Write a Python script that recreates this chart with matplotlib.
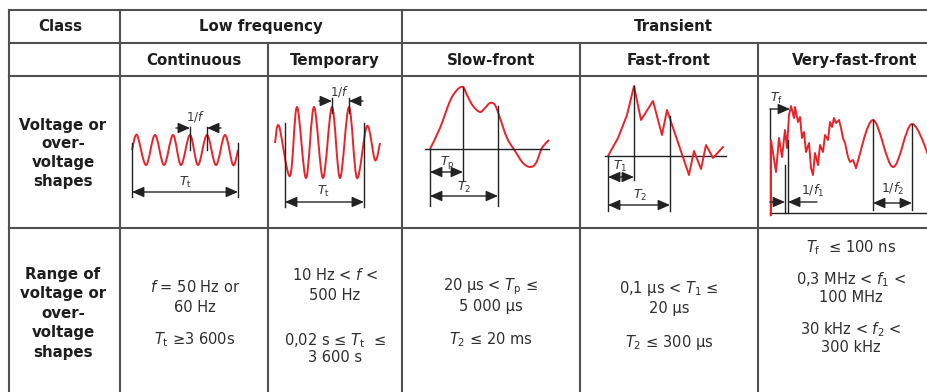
import matplotlib.pyplot as plt
from matplotlib.path import Path
from matplotlib.patches import PathPatch

plt.rcParams['font.family'] = ['DejaVu Sans']
plt.rcParams['mathtext.fontset'] = 'dejavusans'

# table text
groups = ['Low frequency', 'Transient']
shapes = ['Continuous', 'Temporary', 'Slow-front', 'Fast-front', 'Very-fast-front']
row_shape = ['Voltage or', 'over-', 'voltage', 'shapes']
row_range = ['Range of', 'voltage or', 'over-', 'voltage', 'shapes']
ranges = [
    ['$f$ = 50 Hz or', '60 Hz', '$T_\\mathrm{t}$ ≥3 600s'],
    ['10 Hz < $f$ <', '500 Hz', '0,02 s ≤ $T_\\mathrm{t}$  ≤', '3 600 s'],
    ['20 µs < $T_\\mathrm{p}$ ≤', '5 000 µs', '$T_2$ ≤ 20 ms'],
    ['0,1 µs < $T_1$ ≤', '20 µs', '$T_2$ ≤ 300 µs'],
    ['$T_\\mathrm{f}$  ≤ 100 ns', '0,3 MHz < $f_1$ <', '100 MHz',
     '30 kHz < $f_2$ <', '300 kHz'],
]

# waveform key points (pixel coords)
cont_x = [132, 137, 146, 155, 164, 173, 181, 190, 198, 207, 216, 225, 233, 238]
cont_y = [150, 135, 165, 135, 165, 135, 165, 135, 165, 135, 165, 135, 165, 150]
temp_x = [275, 279, 290, 297, 306, 314, 323, 332, 340, 349, 357, 367, 375, 380]
temp_y = [143, 126, 176, 107, 178, 107, 178, 107, 178, 107, 178, 126, 160, 143]
slow_x = [430, 440, 450, 457, 463, 467, 473, 480, 485, 490, 495, 500, 507,
          515, 523, 530, 536, 542, 549]
slow_y = [149, 128, 101, 90, 87, 95, 106, 112, 108, 103, 105, 118, 138,
          151, 163, 167, 163, 148, 140]
fast_x = [608, 618, 627, 634, 641, 653, 662, 667, 689, 694, 701, 706, 713, 723]
fast_y = [156, 138, 115, 86, 120, 101, 135, 110, 175, 151, 169, 145, 158, 147]
vff_x = [771, 771, 776, 779, 782, 785, 787, 789, 791, 794, 795, 798, 800, 802,
         804, 806, 809, 811, 813, 815, 818, 820, 823, 825, 828, 830, 832, 834,
         836, 839, 841, 843, 845, 848, 850, 853, 856]
vff_y = [215, 140, 172, 138, 157, 130, 148, 115, 106, 118, 107, 122, 117, 138,
         132, 152, 143, 168, 175, 153, 165, 145, 152, 135, 140, 122, 127, 118,
         123, 120, 128, 138, 143, 157, 162, 160, 168]
tail_x = [856, 873, 893, 912, 932]
tail_y = [168, 120, 167, 124, 165]

RED = '#e8232a'
INK = '#222222'
GRID = '#505050'
TXT = '#2e2e2e'


def smooth(ax, xs, ys):
    # Catmull-Rom through the key points, drawn as cubic bezier path
    pts = list(zip(xs, ys))
    verts = [pts[0]]
    codes = [Path.MOVETO]
    n = len(pts)
    for i in range(n - 1):
        p0 = pts[max(i - 1, 0)]
        p1 = pts[i]
        p2 = pts[i + 1]
        p3 = pts[min(i + 2, n - 1)]
        c1 = (p1[0] + (p2[0] - p0[0]) / 6, p1[1] + (p2[1] - p0[1]) / 6)
        c2 = (p2[0] - (p3[0] - p1[0]) / 6, p2[1] - (p3[1] - p1[1]) / 6)
        verts += [c1, c2, p2]
        codes += [Path.CURVE4] * 3
    ax.add_patch(PathPatch(Path(verts, codes), fill=False, color=RED, lw=1.4))


def arrow(ax, x0, x1, y, style='<|-|>'):
    ax.annotate('', xy=(x1, y), xytext=(x0, y),
                arrowprops=dict(arrowstyle=style + ',head_length=0.8,head_width=0.35',
                                color=INK, lw=1.0, mutation_scale=9,
                                shrinkA=0, shrinkB=0))


def vline(ax, x, y0, y1):
    ax.plot([x, x], [y0, y1], color=INK, lw=1.0)


def label(ax, x, y, s, size=9):
    ax.text(x, y, s, ha='center', va='center', fontsize=size, color='#333333')


fig = plt.figure(figsize=(9.28, 3.92), dpi=100)
ax = fig.add_axes([0, 0, 1, 1])
ax.set_xlim(0, 928)
ax.set_ylim(392, 0)
ax.axis('off')

# grid
for y in [10, 43, 76, 228]:
    ax.plot([9, 928], [y, y], color=GRID, lw=1.5)
for x, y0 in [(9, 10), (120, 10), (268, 43), (402, 10), (580, 43), (758, 43)]:
    ax.plot([x, x], [y0, 392], color=GRID, lw=1.5)

# headers
bold = dict(ha='center', va='center', fontsize=10.8, fontweight='bold', color='#1e1e1e')
ax.text(60, 26, 'Class', **bold)
ax.text(261, 26, groups[0], **bold)
ax.text(673, 26, groups[1], **bold)
for cx, s in zip([194, 335, 491, 669, 855], shapes):
    ax.text(cx, 60, s, **bold)

for i, s in enumerate(row_shape):
    ax.text(63, 125 + 18.8 * i, s, **bold)
for i, s in enumerate(row_range):
    ax.text(63, 274 + 19.5 * i, s, **bold)

# range texts
range_y = [[287, 307, 340], [275, 295, 341, 357], [287, 307, 340],
           [288, 308, 342], [248, 280, 298, 330, 348]]
for cx, lines, ys in zip([195, 335, 491, 669, 851], ranges, range_y):
    for s, y in zip(lines, ys):
        ax.text(cx, y, s, ha='center', va='center', fontsize=10.5, color=TXT)

# continuous
smooth(ax, cont_x, cont_y)
vline(ax, 132, 143, 197)
vline(ax, 238, 143, 197)
arrow(ax, 132, 238, 192)
label(ax, 185, 182, '$T_\\mathrm{t}$')
vline(ax, 190, 127, 150)
vline(ax, 207, 127, 150)
arrow(ax, 176, 190, 128, '-|>')
arrow(ax, 221, 207, 128, '-|>')
label(ax, 196, 116, '1/$f$', 8.5)

# temporary
smooth(ax, temp_x, temp_y)
vline(ax, 285, 123, 207)
vline(ax, 364, 123, 207)
arrow(ax, 285, 364, 202)
label(ax, 323, 191, '$T_\\mathrm{t}$')
vline(ax, 332, 98, 113)
vline(ax, 349, 98, 113)
arrow(ax, 319, 332, 101, '-|>')
arrow(ax, 363, 349, 101, '-|>')
label(ax, 340, 91, '1/$f$', 8.5)

# slow-front
ax.plot([425, 549], [149, 149], color=INK, lw=1.0)
smooth(ax, slow_x, slow_y)
vline(ax, 430, 149, 206)
vline(ax, 463, 87, 181)
vline(ax, 498, 106, 206)
arrow(ax, 430, 463, 172)
label(ax, 447, 162, '$T_\\mathrm{p}$')
arrow(ax, 430, 498, 196)
label(ax, 464, 187, '$T_2$')

# fast-front
ax.plot([605, 726], [156, 156], color=INK, lw=1.0)
ax.plot(fast_x, fast_y, color=RED, lw=1.4)
vline(ax, 608, 156, 211)
vline(ax, 634, 86, 180)
vline(ax, 670, 116, 211)
arrow(ax, 608, 634, 177)
label(ax, 620, 166, '$T_1$')
arrow(ax, 608, 670, 205)
label(ax, 640, 195, '$T_2$')

# very-fast-front
vline(ax, 770, 109, 215)
ax.plot([770, 928], [213, 213], color=INK, lw=1.0)
ax.plot(vff_x, vff_y, color=RED, lw=1.4)
smooth(ax, tail_x, tail_y)
arrow(ax, 770, 790, 109, '-|>')
label(ax, 776, 98, '$T_\\mathrm{f}$')
vline(ax, 785, 165, 213)
vline(ax, 788, 140, 213)
arrow(ax, 770, 785, 202, '-|>')
arrow(ax, 817, 788, 202, '-|>')
label(ax, 813, 191, '1/$f_1$')
vline(ax, 873, 120, 210)
vline(ax, 912, 124, 210)
arrow(ax, 873, 912, 203)
label(ax, 893, 189, '1/$f_2$')

fig.savefig('out.png', dpi=100)
